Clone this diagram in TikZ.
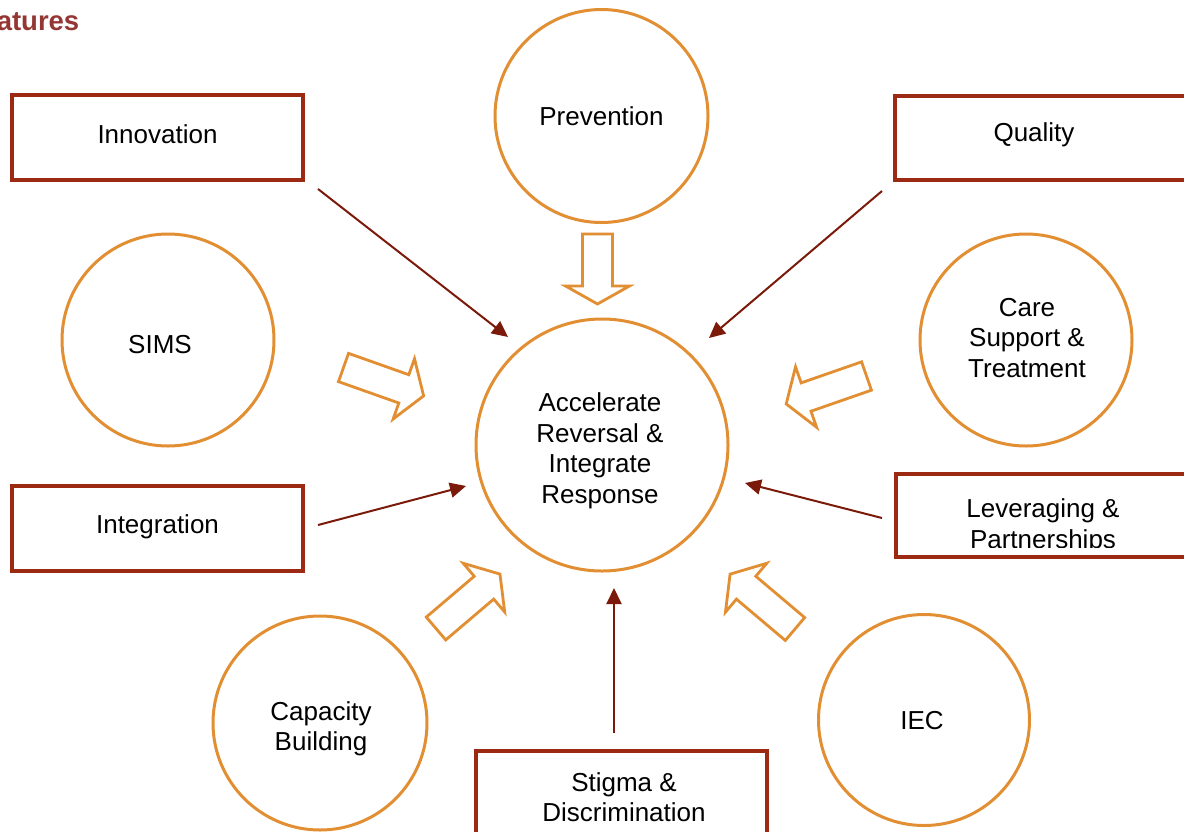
\documentclass[tikz,border=0pt]{standalone}
\usepackage{fontspec}
\setmainfont{Liberation Sans}
\usetikzlibrary{arrows.meta}
\definecolor{titlered}{RGB}{148,54,52}
\definecolor{boxred}{RGB}{156,42,18}
\definecolor{arrred}{RGB}{123,26,10}
\definecolor{ringorange}{RGB}{226,142,50}
\newcommand\hollowarr[5]{%
  \begin{scope}[shift={(#1,#2)},rotate=#3]
    \draw[hollowarrow] (0,-15) -- ({#4-#5},-15) -- ({#4-#5},-32) -- (#4,0)
      -- ({#4-#5},32) -- ({#4-#5},15) -- (0,15) -- cycle;
  \end{scope}}
\begin{document}
\begin{tikzpicture}[x=1pt,y=-1pt,
  txt/.style={font=\fontsize{26}{30.5}\selectfont, align=center, text=black},
  rbox/.style={draw=boxred, line width=3.5pt, fill=white, inner sep=0pt},
  ring/.style={circle, draw=ringorange, line width=3pt, inner sep=0pt, txt},
  thinarr/.style={draw=arrred, line width=2pt, -{Triangle[length=16pt,width=15pt]}},
  hollowarrow/.style={draw=ringorange, line width=2.8pt, fill=white, line join=miter}]
\useasboundingbox (0,0) rectangle (1184,831);
\clip (0,0) rectangle (1184,831);

% title
\node[anchor=base east, inner sep=0pt, text=titlered, font=\fontsize{27.5}{30}\selectfont\bfseries] (title) at (79.5,30) {atures};

% boxes
\draw[rbox] (12,95) rectangle (303,180);
\node[txt] (innov) at (157.5,134) {Innovation};
\draw[rbox] (895,96) rectangle (1190,180);
\node[txt] (quality) at (1034,135) {Quality};
\draw[rbox] (12,486) rectangle (303,571);
\node[txt] (integ) at (157.5,527) {Integration};
\draw[rbox] (896,474) rectangle (1190,557);
\begin{scope}
  \clip (898,476) rectangle (1184,547);
  \node[txt] (lever) at (1043,526.5) {Leveraging \&\\Partnerships};
\end{scope}
\draw[rbox] (476,751) rectangle (767,840);
\node[txt] (stigma) at (624,797) {Stigma \&\\Discrimination};

% circles
\node[ring, minimum size=213pt] (prev) at (601.5,116) {Prevention};
\node[ring, minimum size=212pt] (sims) at (168,340) {};
\node[txt] (simst) at (160,345) {SIMS};
\node[ring, minimum size=212pt] (care) at (1026,340) {};
\node[txt] (caret) at (1027,338) {Care\\Support \&\\Treatment};
\node[ring, minimum size=252pt] (center) at (602,445) {};
\node[txt] (centert) at (600,451) {Accelerate\\Reversal \&\\Integrate\\Response};
\node[ring, minimum size=214pt] (cap) at (320,723) {};
\node[txt] (capt) at (321,729) {Capacity\\Building};
\node[ring, minimum size=211pt] (iec) at (924,720) {};
\node[txt] (iect) at (922,721) {IEC};

% hollow block arrows
\hollowarr{597.5}{234}{-90}{70}{18}
\hollowarr{343.5}{367.5}{-19.5}{85}{21}
\hollowarr{866.5}{376}{199.2}{85}{21}
\hollowarr{436}{628.5}{40.4}{84}{21}
\hollowarr{795}{629}{139.8}{85}{21}

% thin arrows
\coordinate (a1s) at (318,189); \coordinate (a1e) at (508,337);
\coordinate (a2s) at (882,191); \coordinate (a2e) at (709,338);
\coordinate (a3s) at (318,525); \coordinate (a3e) at (466,486);
\coordinate (a4s) at (882,518); \coordinate (a4e) at (745,483);
\coordinate (a5s) at (614,733); \coordinate (a5e) at (614,588);
\draw[thinarr] (a1s) -- (a1e);
\draw[thinarr] (a2s) -- (a2e);
\draw[thinarr] (a3s) -- (a3e);
\draw[thinarr] (a4s) -- (a4e);
\draw[thinarr] (a5s) -- (a5e);
\end{tikzpicture}
\end{document}
